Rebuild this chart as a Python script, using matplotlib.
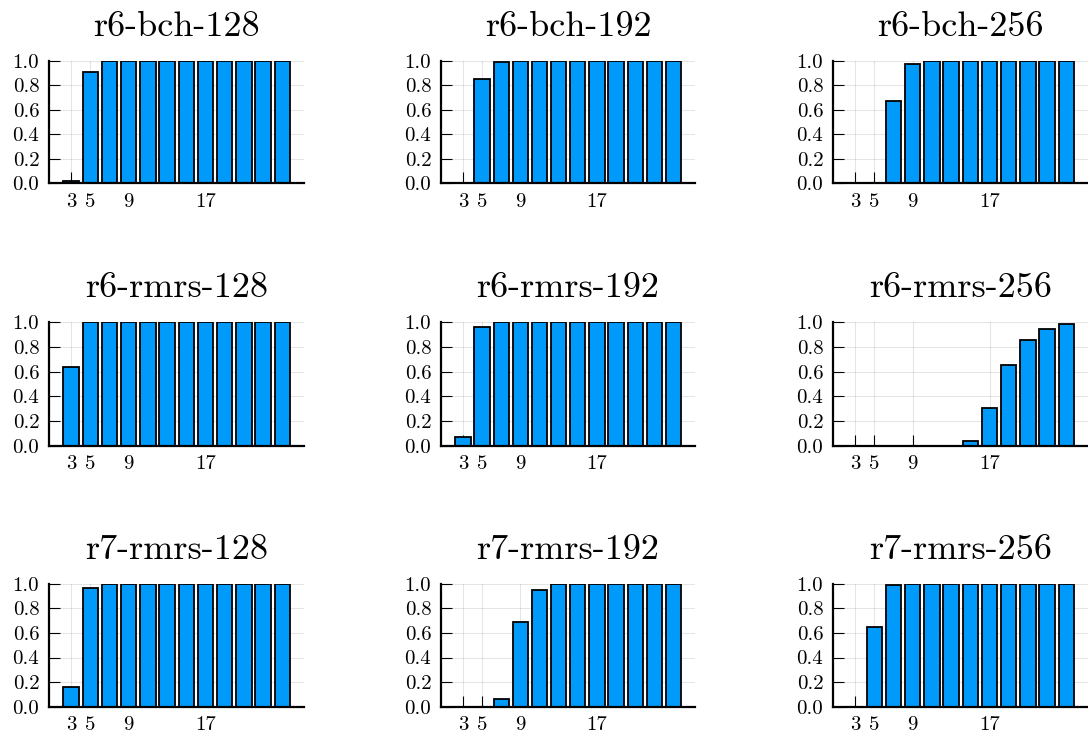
import numpy as np
import matplotlib
matplotlib.use("Agg")
import matplotlib.pyplot as plt

# block sizes on the x axis
sizes = [3, 5, 7, 9, 11, 13, 15, 17, 19, 21, 23, 25]
xticks = [3, 5, 9, 17]

titles = ["r6-bch-128", "r6-bch-192", "r6-bch-256",
          "r6-rmrs-128", "r6-rmrs-192", "r6-rmrs-256",
          "r7-rmrs-128", "r7-rmrs-192", "r7-rmrs-256"]

r6_bch_128 = [0.015, 0.907, 1, 1, 1, 1, 1, 1, 1, 1, 1, 1]
r6_bch_192 = [0.0, 0.851, 0.995, 1, 1, 1, 1, 1, 1, 1, 1, 1]
r6_bch_256 = [0.0, 0.005, 0.673, 0.973, 1, 1, 1, 1, 1, 1, 1, 1]
r6_rmrs_128 = [0.635, 1, 1, 1, 1, 1, 1, 1, 1, 1, 1, 1]
r6_rmrs_192 = [0.073, 0.962, 1, 1, 1, 1, 1, 1, 1, 1, 1, 1]
r6_rmrs_256 = [0.0, 0.0, 0.0, 0.0, 0.0, 0.0, 0.035, 0.306, 0.65, 0.856, 0.949, 0.984]
r7_rmrs_128 = [0.16, 0.967, 1, 1, 1, 1, 1, 1, 1, 1, 1, 1]
r7_rmrs_192 = [0.0, 0.0, 0.062, 0.686, 0.949, 0.995, 1, 1, 1, 1, 1, 1]
r7_rmrs_256 = [0.0, 0.648, 0.989, 1, 1, 1, 1, 1, 1, 1, 1, 1]

series = [r6_bch_128, r6_bch_192, r6_bch_256,
          r6_rmrs_128, r6_rmrs_192, r6_rmrs_256,
          r7_rmrs_128, r7_rmrs_192, r7_rmrs_256]

plt.rcParams['font.family'] = ['cmr10', 'DejaVu Serif']
plt.rcParams['axes.formatter.use_mathtext'] = True

W, H = 1088, 737
fig = plt.figure(figsize=(W/100.0, H/100.0), dpi=100)

# pixel boxes of the panels (left, right) / (top, bottom)
cols = [(49, 304), (441, 695), (833, 1088)]
rows = [(61, 183.3), (322.3, 445.7), (583.7, 706.7)]

for n in range(9):
    r, c = divmod(n, 3)
    x0, x1 = cols[c]
    y0, y1 = rows[r]
    ax = fig.add_axes([x0/W, 1 - y1/H, (x1 - x0)/W, (y1 - y0)/H])

    ax.bar(sizes, series[n], width=1.6, color="#009AFA",
           edgecolor="black", linewidth=1.3, zorder=2)

    ax.set_xlim(0.7, 27.25)
    ax.set_ylim(0, 1)
    ax.set_xticks(xticks)
    ax.set_xticklabels([str(t) for t in xticks])
    ax.set_yticks([0.0, 0.2, 0.4, 0.6, 0.8, 1.0])
    ax.set_yticklabels(["0.0", "0.2", "0.4", "0.6", "0.8", "1.0"])

    ax.grid(True, color="black", alpha=0.1, linewidth=0.8, zorder=0)
    ax.set_axisbelow(True)

    for s in ["top", "right"]:
        ax.spines[s].set_visible(False)
    for s in ["left", "bottom"]:
        ax.spines[s].set_linewidth(1.6)
        ax.spines[s].set_zorder(3)

    ax.tick_params(direction="in", length=8, width=0.8, labelsize=15,
                   color="black")
    ax.tick_params(axis="x", pad=7)
    ax.tick_params(axis="y", pad=7)

    ax.set_title(titles[n], fontsize=26, pad=18)

plt.savefig("out.png", dpi=100)
